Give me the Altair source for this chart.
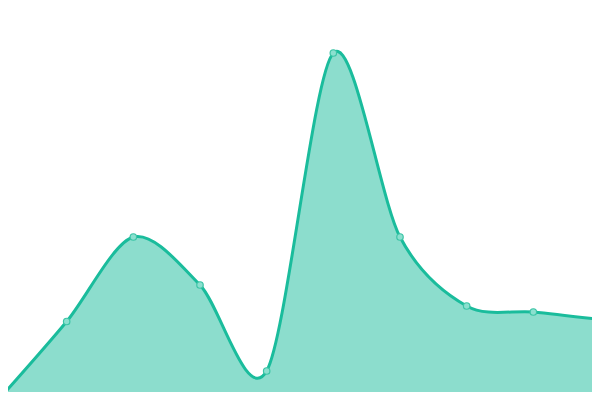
import altair as alt
import pandas as pd

idx = [0, 1, 2, 3, 4, 5, 6, 7, 8, 9]
values = [2, 78.5, 163, 115, 29, 347, 163, 94, 88, 80.5]

df = pd.DataFrame({"i": idx, "v": values})

x = alt.X("i:Q", scale=alt.Scale(domain=[0.12, 8.88], nice=False, zero=False), axis=None)
y = alt.Y("v:Q", scale=alt.Scale(domain=[8, 392], nice=False, zero=False), axis=None)

base = alt.Chart(df)
area = base.mark_area(interpolate="cardinal", tension=0.1, color="#1abc9c", opacity=0.5, clip=True).encode(
    x=x, y=y, y2=alt.datum(-100)
)
line = base.mark_line(interpolate="cardinal", tension=0.1, color="#1abc9c", strokeWidth=3, clip=True).encode(x=x, y=y)
pts = base.mark_point(filled=True, fill="#8be0cf", stroke="#3cc4a6", strokeWidth=1.2, size=42, opacity=1, clip=True).encode(x=x, y=y)

chart = (area + line + pts).properties(
    width=584, height=384, padding=0, autosize=alt.AutoSizeParams(type="none")
).configure_view(stroke=None)

chart.save("out.html", embed_options={"renderer": "svg", "actions": False})
